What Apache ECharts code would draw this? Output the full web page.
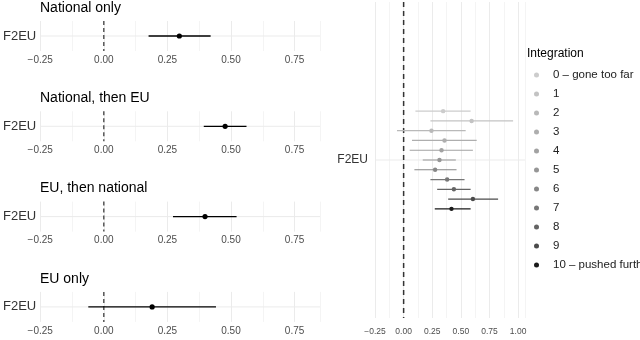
<!DOCTYPE html>
<html>
<head>
<meta charset="utf-8">
<script src="https://cdn.jsdelivr.net/npm/echarts@6/dist/echarts.min.js"></script>
<style>
  html, body { margin: 0; padding: 0; background: #fff; }
  #chart { width: 640px; height: 340px; }
</style>
</head>
<body>
<div id="chart"></div>
<script>
// term shown on every y axis
const term = 'F2EU';

// left column: one estimate per ordering
const panelTitles = ['National only', 'National, then EU', 'EU, then national', 'EU only'];
const panelEst = [0.297, 0.477, 0.398, 0.19];
const panelLo = [0.176, 0.393, 0.272, -0.061];
const panelHi = [0.42, 0.561, 0.522, 0.441];

// right column: one estimate per integration level
const integrationLevels = ['0 \u2013 gone too far', '1', '2', '3', '4', '5', '6', '7', '8', '9', '10 \u2013 pushed further'];
const integrationEst = [0.345, 0.594, 0.243, 0.357, 0.331, 0.313, 0.275, 0.38, 0.439, 0.605, 0.418];
const integrationLo = [0.103, 0.234, -0.058, 0.073, 0.053, 0.167, 0.094, 0.234, 0.293, 0.389, 0.272];
const integrationHi = [0.585, 0.956, 0.542, 0.638, 0.605, 0.456, 0.462, 0.532, 0.585, 0.825, 0.585];

const greys = ['#cccccc', '#c3c3c3', '#b9b9b9', '#aeaeae', '#a2a2a2', '#969696',
  '#878787', '#777777', '#646464', '#4b4b4b', '#1a1a1a'];
const font = '"Liberation Sans", Arial, sans-serif';

const chart = echarts.init(document.getElementById('chart'));

function tickLabel(v) {
  const q = v / 0.25;
  if (Math.abs(q - Math.round(q)) > 1e-6) return ''; // minor / extent ticks
  const s = Math.abs(v).toFixed(2);
  return v < -1e-9 ? '\u2212' + s : s;
}

const grids = [];
const xAxes = [];
const yAxes = [];
const series = [];
const titles = [];

// axes + background (y gridline through the term, dashed zero line)
function addAxes(gi, rect, xMax, tickSize, tickMargin, termSize, termMargin, dash, dashWidth) {
  grids.push(rect);
  xAxes.push({
    gridIndex: gi,
    type: 'value',
    min: -0.25,
    max: xMax,
    interval: 0.125,
    axisLine: { show: false },
    axisTick: { show: false },
    axisLabel: { formatter: tickLabel, fontSize: tickSize, color: '#4d4d4d', margin: tickMargin, fontFamily: font },
    splitLine: { show: true, lineStyle: { color: ['#ebebeb', '#f4f4f4'], width: 1 } },
  });
  yAxes.push({
    gridIndex: gi,
    type: 'category',
    data: [term],
    axisLine: { show: false },
    axisTick: { show: false },
    splitLine: { show: false },
    axisLabel: { fontSize: termSize, color: '#333', margin: termMargin, fontFamily: font },
  });
  series.push({
    type: 'custom',
    xAxisIndex: gi,
    yAxisIndex: gi,
    z: 1,
    silent: true,
    data: [[0, 0]],
    encode: { x: 0, y: 1 },
    renderItem(params, api) {
      const p = api.coord([api.value(0), api.value(1)]);
      const cs = params.coordSys;
      return {
        type: 'group',
        children: [
          { type: 'line', shape: { x1: cs.x, y1: p[1], x2: cs.x + cs.width, y2: p[1] }, style: { stroke: '#ebebeb', lineWidth: 1 } },
          { type: 'line', shape: { x1: p[0], y1: cs.y, x2: p[0], y2: cs.y + cs.height }, style: { stroke: '#333', lineWidth: dashWidth, lineDash: dash } },
        ],
      };
    },
  });
}

// left column
panelTitles.forEach((t, k) => {
  const top = 21 + 90.3 * k;
  addAxes(k, { left: 39, top, width: 281, height: 30 }, 0.85, 10, 4, 13, 4, [4, 3], 1.2);
  titles.push({
    text: t,
    left: 40,
    top: top - 20,
    padding: 0,
    textStyle: { fontSize: 14, fontWeight: 'normal', color: '#000', fontFamily: font },
  });
  series.push({
    type: 'custom',
    xAxisIndex: k,
    yAxisIndex: k,
    z: 3,
    data: [[panelEst[k], panelLo[k], panelHi[k], 0]],
    encode: { x: [0, 1, 2], y: 3 },
    renderItem(params, api) {
      const c = api.value(3);
      const lo = api.coord([api.value(1), c]);
      const hi = api.coord([api.value(2), c]);
      const pt = api.coord([api.value(0), c]);
      return {
        type: 'group',
        children: [
          { type: 'line', shape: { x1: lo[0], y1: lo[1], x2: hi[0], y2: hi[1] }, style: { stroke: '#000', lineWidth: 1.3 } },
          { type: 'circle', shape: { cx: pt[0], cy: pt[1], r: 2.6 }, style: { fill: '#000' } },
        ],
      };
    },
  });
});

// right column, dodged by integration level
const rg = panelTitles.length;
addAxes(rg, { left: 375, top: 2, width: 150, height: 316 }, 1.06, 8.5, 9, 12, 7, [5, 4], 1.5);
const n = integrationLevels.length;
const dodgeFrac = 0.34;
integrationLevels.forEach((name, i) => {
  series.push({
    type: 'custom',
    name,
    xAxisIndex: rg,
    yAxisIndex: rg,
    z: 3,
    itemStyle: { color: greys[i] },
    data: [[integrationEst[i], integrationLo[i], integrationHi[i], 0]],
    encode: { x: [0, 1, 2], y: 3 },
    renderItem(params, api) {
      const c = api.value(3);
      const band = api.size([0, 1])[1];
      const off = (i - (n - 1) / 2) * band * dodgeFrac / n;
      const lo = api.coord([api.value(1), c]);
      const hi = api.coord([api.value(2), c]);
      const pt = api.coord([api.value(0), c]);
      const col = greys[i];
      return {
        type: 'group',
        children: [
          { type: 'line', shape: { x1: lo[0], y1: lo[1] + off, x2: hi[0], y2: hi[1] + off }, style: { stroke: col, lineWidth: 1.2 } },
          { type: 'circle', shape: { cx: pt[0], cy: pt[1] + off, r: 2.2 }, style: { fill: col } },
        ],
      };
    },
  });
});

titles.push({
  text: 'Integration',
  left: 527,
  top: 48,
  padding: 0,
  textStyle: { fontSize: 12, fontWeight: 'normal', color: '#000', fontFamily: font },
});

chart.setOption({
  animation: false,
  backgroundColor: '#fff',
  title: titles,
  legend: {
    orient: 'vertical',
    left: 534,
    top: 65.5,
    padding: 0,
    itemWidth: 5,
    itemHeight: 5,
    itemGap: 0,
    icon: 'circle',
    selectedMode: false,
    data: integrationLevels,
    textStyle: { fontSize: 11.5, color: '#222', lineHeight: 19, padding: [0, 0, 0, 9], fontFamily: font },
  },
  grid: grids,
  xAxis: xAxes,
  yAxis: yAxes,
  series,
});
</script>
</body>
</html>
